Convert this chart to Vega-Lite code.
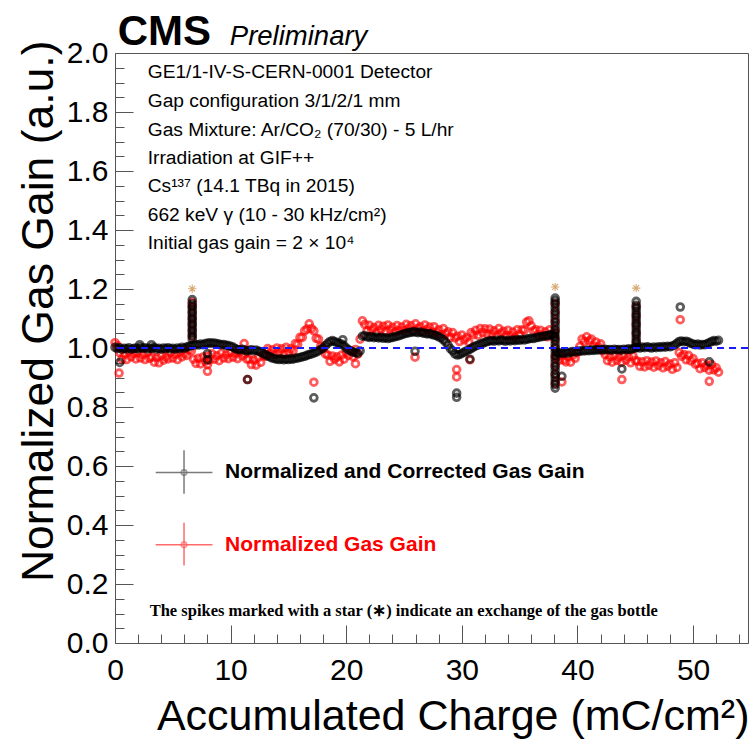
{
  "$schema": "https://vega.github.io/schema/vega-lite/v6.json",
  "width": 633,
  "height": 590,
  "autosize": "none",
  "padding": {"left": 115, "top": 53, "right": 2, "bottom": 102},
  "background": "white",
  "config": {"view": {"stroke": "#555", "strokeWidth": 1}, "font": "Liberation Sans"},
  "resolve": {"axis": {"x": "independent", "y": "independent"}},
  "datasets": {
    "gain": [
      {"q":0.0,"g":1.018,"s":"N"},{"q":0.2,"g":1.008,"s":"N"},{"q":0.4,"g":0.984,"s":"N"},{"q":0.6,"g":0.962,"s":"N"},{"q":0.8,"g":0.978,"s":"N"},{"q":1.0,"g":0.961,"s":"N"},{"q":1.2,"g":0.986,"s":"N"},{"q":1.4,"g":0.970,"s":"N"},{"q":1.6,"g":0.981,"s":"N"},{"q":1.8,"g":0.963,"s":"N"},
      {"q":2.0,"g":0.984,"s":"N"},{"q":2.2,"g":0.966,"s":"N"},{"q":2.4,"g":0.978,"s":"N"},{"q":2.6,"g":0.961,"s":"N"},{"q":2.8,"g":0.986,"s":"N"},{"q":3.0,"g":0.965,"s":"N"},{"q":3.2,"g":0.970,"s":"N"},{"q":3.4,"g":0.952,"s":"N"},{"q":3.6,"g":0.967,"s":"N"},{"q":3.8,"g":0.950,"s":"N"},
      {"q":4.0,"g":0.975,"s":"N"},{"q":4.2,"g":0.959,"s":"N"},{"q":4.4,"g":0.970,"s":"N"},{"q":4.6,"g":0.963,"s":"N"},{"q":4.8,"g":0.984,"s":"N"},{"q":5.0,"g":0.966,"s":"N"},{"q":5.2,"g":0.978,"s":"N"},{"q":5.4,"g":0.961,"s":"N"},{"q":5.6,"g":0.986,"s":"N"},{"q":5.8,"g":0.970,"s":"N"},
      {"q":6.0,"g":0.981,"s":"N"},{"q":6.2,"g":0.975,"s":"N"},{"q":6.4,"g":0.995,"s":"N"},{"q":6.6,"g":0.990,"s":"N"},{"q":6.8,"g":0.962,"s":"N"},{"q":7.0,"g":0.948,"s":"N"},{"q":7.2,"g":0.965,"s":"N"},{"q":7.4,"g":0.946,"s":"N"},{"q":7.6,"g":0.969,"s":"N"},{"q":7.8,"g":0.955,"s":"N"},
      {"q":8.0,"g":0.972,"s":"N"},{"q":8.2,"g":0.959,"s":"N"},{"q":8.4,"g":0.980,"s":"N"},{"q":8.6,"g":0.962,"s":"N"},{"q":8.8,"g":0.974,"s":"N"},{"q":9.0,"g":0.957,"s":"N"},{"q":9.2,"g":0.982,"s":"N"},{"q":9.4,"g":0.966,"s":"N"},{"q":9.6,"g":0.977,"s":"N"},{"q":9.8,"g":0.964,"s":"N"},
      {"q":10.0,"g":0.985,"s":"N"},{"q":10.2,"g":0.969,"s":"N"},{"q":10.4,"g":0.981,"s":"N"},{"q":10.6,"g":0.964,"s":"N"},{"q":10.8,"g":0.987,"s":"N"},{"q":11.0,"g":0.973,"s":"N"},{"q":11.2,"g":0.980,"s":"N"},{"q":11.4,"g":0.962,"s":"N"},{"q":11.6,"g":0.962,"s":"N"},{"q":11.8,"g":0.944,"s":"N"},
      {"q":12.0,"g":0.959,"s":"N"},{"q":12.2,"g":0.942,"s":"N"},{"q":12.4,"g":0.967,"s":"N"},{"q":12.6,"g":0.951,"s":"N"},{"q":12.8,"g":0.975,"s":"N"},{"q":13.0,"g":0.972,"s":"N"},{"q":13.2,"g":0.998,"s":"N"},{"q":13.4,"g":0.982,"s":"N"},{"q":13.6,"g":0.994,"s":"N"},{"q":13.8,"g":0.977,"s":"N"},
      {"q":14.0,"g":1.000,"s":"N"},{"q":14.2,"g":0.986,"s":"N"},{"q":14.4,"g":0.997,"s":"N"},{"q":14.6,"g":0.979,"s":"N"},{"q":14.8,"g":1.002,"s":"N"},{"q":15.0,"g":0.986,"s":"N"},{"q":15.2,"g":0.997,"s":"N"},{"q":15.4,"g":0.990,"s":"N"},{"q":15.6,"g":1.015,"s":"N"},{"q":15.8,"g":1.012,"s":"N"},
      {"q":16.0,"g":1.036,"s":"N"},{"q":16.2,"g":1.036,"s":"N"},{"q":16.4,"g":1.058,"s":"N"},{"q":16.6,"g":1.064,"s":"N"},{"q":16.8,"g":1.082,"s":"N"},{"q":17.0,"g":1.066,"s":"N"},{"q":17.2,"g":1.058,"s":"N"},{"q":17.4,"g":1.033,"s":"N"},{"q":17.6,"g":1.030,"s":"N"},{"q":17.8,"g":1.006,"s":"N"},
      {"q":18.0,"g":0.999,"s":"N"},{"q":18.2,"g":0.980,"s":"N"},{"q":18.4,"g":0.976,"s":"N"},{"q":18.6,"g":0.955,"s":"N"},{"q":18.8,"g":0.973,"s":"N"},{"q":19.0,"g":0.962,"s":"N"},{"q":19.2,"g":0.970,"s":"N"},{"q":19.4,"g":0.953,"s":"N"},{"q":19.6,"g":0.976,"s":"N"},{"q":19.8,"g":0.962,"s":"N"},
      {"q":20.0,"g":0.985,"s":"N"},{"q":20.2,"g":0.975,"s":"N"},{"q":20.4,"g":0.990,"s":"N"},{"q":20.6,"g":0.970,"s":"N"},{"q":20.8,"g":0.995,"s":"N"},{"q":21.0,"g":0.979,"s":"N"},{"q":21.2,"g":1.030,"s":"N"},{"q":21.4,"g":1.092,"s":"N"},{"q":21.6,"g":1.080,"s":"N"},{"q":21.8,"g":1.058,"s":"N"},
      {"q":22.0,"g":1.077,"s":"N"},{"q":22.2,"g":1.061,"s":"N"},{"q":22.4,"g":1.069,"s":"N"},{"q":22.6,"g":1.052,"s":"N"},{"q":22.8,"g":1.077,"s":"N"},{"q":23.0,"g":1.063,"s":"N"},{"q":23.2,"g":1.074,"s":"N"},{"q":23.4,"g":1.057,"s":"N"},{"q":23.6,"g":1.078,"s":"N"},{"q":23.8,"g":1.062,"s":"N"},
      {"q":24.0,"g":1.070,"s":"N"},{"q":24.2,"g":1.054,"s":"N"},{"q":24.4,"g":1.076,"s":"N"},{"q":24.6,"g":1.060,"s":"N"},{"q":24.8,"g":1.071,"s":"N"},{"q":25.0,"g":1.059,"s":"N"},{"q":25.2,"g":1.080,"s":"N"},{"q":25.4,"g":1.066,"s":"N"},{"q":25.6,"g":1.076,"s":"N"},{"q":25.8,"g":1.058,"s":"N"},
      {"q":26.0,"g":1.082,"s":"N"},{"q":26.2,"g":1.066,"s":"N"},{"q":26.4,"g":1.072,"s":"N"},{"q":26.6,"g":1.057,"s":"N"},{"q":26.8,"g":1.078,"s":"N"},{"q":27.0,"g":1.062,"s":"N"},{"q":27.2,"g":1.071,"s":"N"},{"q":27.4,"g":1.054,"s":"N"},{"q":27.6,"g":1.072,"s":"N"},{"q":27.8,"g":1.053,"s":"N"},
      {"q":28.0,"g":1.062,"s":"N"},{"q":28.2,"g":1.045,"s":"N"},{"q":28.4,"g":1.066,"s":"N"},{"q":28.6,"g":1.048,"s":"N"},{"q":28.8,"g":1.055,"s":"N"},{"q":29.0,"g":1.036,"s":"N"},{"q":29.2,"g":1.052,"s":"N"},{"q":29.4,"g":1.034,"s":"N"},{"q":29.6,"g":1.040,"s":"N"},{"q":29.8,"g":1.022,"s":"N"},
      {"q":30.0,"g":1.044,"s":"N"},{"q":30.2,"g":1.028,"s":"N"},{"q":30.4,"g":1.035,"s":"N"},{"q":30.6,"g":1.020,"s":"N"},{"q":30.8,"g":1.052,"s":"N"},{"q":31.0,"g":1.045,"s":"N"},{"q":31.2,"g":1.060,"s":"N"},{"q":31.4,"g":1.043,"s":"N"},{"q":31.6,"g":1.066,"s":"N"},{"q":31.8,"g":1.052,"s":"N"},
      {"q":32.0,"g":1.065,"s":"N"},{"q":32.2,"g":1.048,"s":"N"},{"q":32.4,"g":1.064,"s":"N"},{"q":32.6,"g":1.047,"s":"N"},{"q":32.8,"g":1.058,"s":"N"},{"q":33.0,"g":1.041,"s":"N"},{"q":33.2,"g":1.066,"s":"N"},{"q":33.4,"g":1.050,"s":"N"},{"q":33.6,"g":1.057,"s":"N"},{"q":33.8,"g":1.042,"s":"N"},
      {"q":34.0,"g":1.060,"s":"N"},{"q":34.2,"g":1.042,"s":"N"},{"q":34.4,"g":1.054,"s":"N"},{"q":34.6,"g":1.037,"s":"N"},{"q":34.8,"g":1.062,"s":"N"},{"q":35.0,"g":1.046,"s":"N"},{"q":35.2,"g":1.062,"s":"N"},{"q":35.4,"g":1.060,"s":"N"},{"q":35.6,"g":1.088,"s":"N"},{"q":35.8,"g":1.092,"s":"N"},
      {"q":36.0,"g":1.075,"s":"N"},{"q":36.2,"g":1.058,"s":"N"},{"q":36.4,"g":1.062,"s":"N"},{"q":36.6,"g":1.045,"s":"N"},{"q":36.8,"g":1.060,"s":"N"},{"q":37.0,"g":1.044,"s":"N"},{"q":37.2,"g":1.055,"s":"N"},{"q":37.4,"g":1.038,"s":"N"},{"q":37.6,"g":1.062,"s":"N"},{"q":37.8,"g":1.046,"s":"N"},
      {"q":38.0,"g":1.050,"s":"N"},{"q":38.2,"g":0.972,"s":"N"},{"q":38.4,"g":0.958,"s":"N"},{"q":38.6,"g":0.974,"s":"N"},{"q":38.8,"g":0.960,"s":"N"},{"q":39.0,"g":0.953,"s":"N"},{"q":39.2,"g":0.970,"s":"N"},{"q":39.4,"g":0.952,"s":"N"},{"q":39.6,"g":0.975,"s":"N"},{"q":39.8,"g":0.965,"s":"N"},
      {"q":40.0,"g":0.985,"s":"N"},{"q":40.2,"g":1.005,"s":"N"},{"q":40.4,"g":1.030,"s":"N"},{"q":40.6,"g":1.022,"s":"N"},{"q":40.8,"g":1.038,"s":"N"},{"q":41.0,"g":1.024,"s":"N"},{"q":41.2,"g":1.030,"s":"N"},{"q":41.4,"g":1.006,"s":"N"},{"q":41.6,"g":1.020,"s":"N"},{"q":41.8,"g":1.004,"s":"N"},
      {"q":42.0,"g":1.014,"s":"N"},{"q":42.2,"g":0.990,"s":"N"},{"q":42.4,"g":0.978,"s":"N"},{"q":42.6,"g":0.957,"s":"N"},{"q":42.8,"g":0.970,"s":"N"},{"q":43.0,"g":0.952,"s":"N"},{"q":43.2,"g":0.975,"s":"N"},{"q":43.4,"g":0.958,"s":"N"},{"q":43.6,"g":0.969,"s":"N"},{"q":43.8,"g":0.952,"s":"N"},
      {"q":44.0,"g":0.975,"s":"N"},{"q":44.2,"g":0.959,"s":"N"},{"q":44.4,"g":0.970,"s":"N"},{"q":44.6,"g":0.950,"s":"N"},{"q":44.8,"g":0.973,"s":"N"},{"q":45.0,"g":0.958,"s":"N"},{"q":45.2,"g":0.955,"s":"N"},{"q":45.4,"g":0.938,"s":"N"},{"q":45.6,"g":0.953,"s":"N"},{"q":45.8,"g":0.936,"s":"N"},
      {"q":46.0,"g":0.957,"s":"N"},{"q":46.2,"g":0.941,"s":"N"},{"q":46.4,"g":0.952,"s":"N"},{"q":46.6,"g":0.935,"s":"N"},{"q":46.8,"g":0.956,"s":"N"},{"q":47.0,"g":0.940,"s":"N"},{"q":47.2,"g":0.950,"s":"N"},{"q":47.4,"g":0.933,"s":"N"},{"q":47.6,"g":0.954,"s":"N"},{"q":47.8,"g":0.938,"s":"N"},
      {"q":48.0,"g":0.946,"s":"N"},{"q":48.2,"g":0.928,"s":"N"},{"q":48.4,"g":0.950,"s":"N"},{"q":48.6,"g":0.934,"s":"N"},{"q":48.8,"g":0.985,"s":"N"},{"q":49.0,"g":0.972,"s":"N"},{"q":49.2,"g":0.978,"s":"N"},{"q":49.4,"g":0.960,"s":"N"},{"q":49.6,"g":0.975,"s":"N"},{"q":49.8,"g":0.956,"s":"N"},
      {"q":50.0,"g":0.964,"s":"N"},{"q":50.2,"g":0.945,"s":"N"},{"q":50.4,"g":0.948,"s":"N"},{"q":50.6,"g":0.930,"s":"N"},{"q":50.8,"g":0.950,"s":"N"},{"q":51.0,"g":0.934,"s":"N"},{"q":51.2,"g":0.942,"s":"N"},{"q":51.4,"g":0.925,"s":"N"},{"q":51.6,"g":0.944,"s":"N"},{"q":51.8,"g":0.926,"s":"N"},
      {"q":52.0,"g":0.933,"s":"N"},{"q":52.2,"g":0.918,"s":"N"},
      {"q":6.68,"g":1.04,"s":"N"},{"q":6.68,"g":1.06,"s":"N"},{"q":6.68,"g":1.08,"s":"N"},{"q":6.68,"g":1.10,"s":"N"},{"q":6.68,"g":1.12,"s":"N"},{"q":6.68,"g":1.14,"s":"N"},{"q":6.68,"g":1.155,"s":"N"},
      {"q":38.07,"g":0.88,"s":"N"},{"q":38.07,"g":0.91,"s":"N"},{"q":38.07,"g":0.94,"s":"N"},{"q":38.07,"g":0.97,"s":"N"},{"q":38.07,"g":1.00,"s":"N"},{"q":38.07,"g":1.03,"s":"N"},{"q":38.07,"g":1.06,"s":"N"},{"q":38.07,"g":1.09,"s":"N"},{"q":38.07,"g":1.12,"s":"N"},{"q":38.07,"g":1.15,"s":"N"},
      {"q":45.08,"g":1.02,"s":"N"},{"q":45.08,"g":1.05,"s":"N"},{"q":45.08,"g":1.08,"s":"N"},{"q":45.08,"g":1.11,"s":"N"},{"q":45.08,"g":1.14,"s":"N"},
      {"q":0.35,"g":0.915,"s":"N"},{"q":8.0,"g":0.921,"s":"N"},{"q":8.0,"g":0.944,"s":"N"},{"q":11.17,"g":1.015,"s":"N"},{"q":11.46,"g":0.893,"s":"N"},{"q":17.2,"g":0.884,"s":"N"},{"q":20.8,"g":0.947,"s":"N"},{"q":25.95,"g":0.969,"s":"N"},{"q":29.55,"g":0.927,"s":"N"},{"q":29.55,"g":0.902,"s":"N"},{"q":30.7,"g":0.960,"s":"N"},{"q":38.65,"g":0.885,"s":"N"},{"q":43.84,"g":0.893,"s":"N"},{"q":48.89,"g":1.096,"s":"N"},{"q":51.4,"g":0.887,"s":"N"},
      {"q":0.0,"g":1.002,"s":"C"},{"q":0.2,"g":0.998,"s":"C"},{"q":0.4,"g":1.001,"s":"C"},{"q":0.6,"g":0.996,"s":"C"},{"q":0.8,"g":0.999,"s":"C"},{"q":1.0,"g":0.997,"s":"C"},{"q":1.2,"g":1.001,"s":"C"},{"q":1.4,"g":0.996,"s":"C"},{"q":1.6,"g":0.998,"s":"C"},{"q":1.8,"g":1.000,"s":"C"},
      {"q":2.0,"g":0.997,"s":"C"},{"q":2.2,"g":1.002,"s":"C"},{"q":2.4,"g":0.999,"s":"C"},{"q":2.6,"g":1.001,"s":"C"},{"q":2.8,"g":0.997,"s":"C"},{"q":3.0,"g":1.000,"s":"C"},{"q":3.2,"g":0.998,"s":"C"},{"q":3.4,"g":1.002,"s":"C"},{"q":3.6,"g":0.997,"s":"C"},{"q":3.8,"g":0.999,"s":"C"},
      {"q":4.0,"g":0.996,"s":"C"},{"q":4.2,"g":1.000,"s":"C"},{"q":4.4,"g":0.998,"s":"C"},{"q":4.6,"g":1.001,"s":"C"},{"q":4.8,"g":0.997,"s":"C"},{"q":5.0,"g":0.999,"s":"C"},{"q":5.2,"g":0.996,"s":"C"},{"q":5.4,"g":1.000,"s":"C"},{"q":5.6,"g":0.998,"s":"C"},{"q":5.8,"g":1.002,"s":"C"},
      {"q":6.0,"g":0.999,"s":"C"},{"q":6.2,"g":1.003,"s":"C"},{"q":6.4,"g":1.006,"s":"C"},{"q":6.6,"g":1.008,"s":"C"},{"q":6.8,"g":1.010,"s":"C"},{"q":7.0,"g":1.012,"s":"C"},{"q":7.2,"g":1.010,"s":"C"},{"q":7.4,"g":1.013,"s":"C"},{"q":7.6,"g":1.011,"s":"C"},{"q":7.8,"g":1.015,"s":"C"},
      {"q":8.0,"g":1.016,"s":"C"},{"q":8.2,"g":1.018,"s":"C"},{"q":8.4,"g":1.016,"s":"C"},{"q":8.6,"g":1.017,"s":"C"},{"q":8.8,"g":1.014,"s":"C"},{"q":9.0,"g":1.013,"s":"C"},{"q":9.2,"g":1.011,"s":"C"},{"q":9.4,"g":1.012,"s":"C"},{"q":9.6,"g":1.009,"s":"C"},{"q":9.8,"g":1.008,"s":"C"},
      {"q":10.0,"g":1.006,"s":"C"},{"q":10.2,"g":1.003,"s":"C"},{"q":10.4,"g":0.998,"s":"C"},{"q":10.6,"g":0.995,"s":"C"},{"q":10.8,"g":0.994,"s":"C"},{"q":11.0,"g":0.996,"s":"C"},{"q":11.2,"g":0.993,"s":"C"},{"q":11.4,"g":0.990,"s":"C"},{"q":11.6,"g":0.992,"s":"C"},{"q":11.8,"g":0.994,"s":"C"},
      {"q":12.0,"g":0.991,"s":"C"},{"q":12.2,"g":0.993,"s":"C"},{"q":12.4,"g":0.990,"s":"C"},{"q":12.6,"g":0.987,"s":"C"},{"q":12.8,"g":0.982,"s":"C"},{"q":13.0,"g":0.978,"s":"C"},{"q":13.2,"g":0.973,"s":"C"},{"q":13.4,"g":0.970,"s":"C"},{"q":13.6,"g":0.966,"s":"C"},{"q":13.8,"g":0.964,"s":"C"},
      {"q":14.0,"g":0.962,"s":"C"},{"q":14.2,"g":0.961,"s":"C"},{"q":14.4,"g":0.963,"s":"C"},{"q":14.6,"g":0.960,"s":"C"},{"q":14.8,"g":0.962,"s":"C"},{"q":15.0,"g":0.961,"s":"C"},{"q":15.2,"g":0.963,"s":"C"},{"q":15.4,"g":0.962,"s":"C"},{"q":15.6,"g":0.965,"s":"C"},{"q":15.8,"g":0.966,"s":"C"},
      {"q":16.0,"g":0.968,"s":"C"},{"q":16.2,"g":0.970,"s":"C"},{"q":16.4,"g":0.972,"s":"C"},{"q":16.6,"g":0.975,"s":"C"},{"q":16.8,"g":0.978,"s":"C"},{"q":17.0,"g":0.980,"s":"C"},{"q":17.2,"g":0.983,"s":"C"},{"q":17.4,"g":0.986,"s":"C"},{"q":17.6,"g":0.990,"s":"C"},{"q":17.8,"g":0.995,"s":"C"},
      {"q":18.0,"g":1.000,"s":"C"},{"q":18.2,"g":1.008,"s":"C"},{"q":18.4,"g":1.016,"s":"C"},{"q":18.6,"g":1.022,"s":"C"},{"q":18.8,"g":1.025,"s":"C"},{"q":19.0,"g":1.022,"s":"C"},{"q":19.2,"g":1.018,"s":"C"},{"q":19.4,"g":1.015,"s":"C"},{"q":19.6,"g":1.013,"s":"C"},{"q":19.8,"g":1.008,"s":"C"},
      {"q":20.0,"g":1.000,"s":"C"},{"q":20.2,"g":0.994,"s":"C"},{"q":20.4,"g":0.990,"s":"C"},{"q":20.6,"g":0.986,"s":"C"},{"q":20.8,"g":0.984,"s":"C"},{"q":21.0,"g":0.982,"s":"C"},{"q":21.2,"g":0.990,"s":"C"},{"q":21.4,"g":1.040,"s":"C"},{"q":21.6,"g":1.042,"s":"C"},{"q":21.8,"g":1.038,"s":"C"},
      {"q":22.0,"g":1.036,"s":"C"},{"q":22.2,"g":1.039,"s":"C"},{"q":22.4,"g":1.035,"s":"C"},{"q":22.6,"g":1.037,"s":"C"},{"q":22.8,"g":1.034,"s":"C"},{"q":23.0,"g":1.036,"s":"C"},{"q":23.2,"g":1.033,"s":"C"},{"q":23.4,"g":1.035,"s":"C"},{"q":23.6,"g":1.032,"s":"C"},{"q":23.8,"g":1.034,"s":"C"},
      {"q":24.0,"g":1.036,"s":"C"},{"q":24.2,"g":1.038,"s":"C"},{"q":24.4,"g":1.040,"s":"C"},{"q":24.6,"g":1.042,"s":"C"},{"q":24.8,"g":1.045,"s":"C"},{"q":25.0,"g":1.048,"s":"C"},{"q":25.2,"g":1.050,"s":"C"},{"q":25.4,"g":1.052,"s":"C"},{"q":25.6,"g":1.053,"s":"C"},{"q":25.8,"g":1.055,"s":"C"},
      {"q":26.0,"g":1.054,"s":"C"},{"q":26.2,"g":1.052,"s":"C"},{"q":26.4,"g":1.054,"s":"C"},{"q":26.6,"g":1.051,"s":"C"},{"q":26.8,"g":1.050,"s":"C"},{"q":27.0,"g":1.048,"s":"C"},{"q":27.2,"g":1.049,"s":"C"},{"q":27.4,"g":1.046,"s":"C"},{"q":27.6,"g":1.044,"s":"C"},{"q":27.8,"g":1.042,"s":"C"},
      {"q":28.0,"g":1.038,"s":"C"},{"q":28.2,"g":1.034,"s":"C"},{"q":28.4,"g":1.028,"s":"C"},{"q":28.6,"g":1.020,"s":"C"},{"q":28.8,"g":1.010,"s":"C"},{"q":29.0,"g":0.998,"s":"C"},{"q":29.2,"g":0.990,"s":"C"},{"q":29.4,"g":0.980,"s":"C"},{"q":29.6,"g":0.976,"s":"C"},{"q":29.8,"g":0.978,"s":"C"},
      {"q":30.0,"g":0.982,"s":"C"},{"q":30.2,"g":0.986,"s":"C"},{"q":30.4,"g":0.990,"s":"C"},{"q":30.6,"g":0.994,"s":"C"},{"q":30.8,"g":0.998,"s":"C"},{"q":31.0,"g":1.003,"s":"C"},{"q":31.2,"g":1.007,"s":"C"},{"q":31.4,"g":1.010,"s":"C"},{"q":31.6,"g":1.013,"s":"C"},{"q":31.8,"g":1.016,"s":"C"},
      {"q":32.0,"g":1.019,"s":"C"},{"q":32.2,"g":1.022,"s":"C"},{"q":32.4,"g":1.024,"s":"C"},{"q":32.6,"g":1.025,"s":"C"},{"q":32.8,"g":1.023,"s":"C"},{"q":33.0,"g":1.026,"s":"C"},{"q":33.2,"g":1.024,"s":"C"},{"q":33.4,"g":1.027,"s":"C"},{"q":33.6,"g":1.025,"s":"C"},{"q":33.8,"g":1.023,"s":"C"},
      {"q":34.0,"g":1.026,"s":"C"},{"q":34.2,"g":1.024,"s":"C"},{"q":34.4,"g":1.027,"s":"C"},{"q":34.6,"g":1.025,"s":"C"},{"q":34.8,"g":1.028,"s":"C"},{"q":35.0,"g":1.026,"s":"C"},{"q":35.2,"g":1.029,"s":"C"},{"q":35.4,"g":1.027,"s":"C"},{"q":35.6,"g":1.030,"s":"C"},{"q":35.8,"g":1.031,"s":"C"},
      {"q":36.0,"g":1.033,"s":"C"},{"q":36.2,"g":1.032,"s":"C"},{"q":36.4,"g":1.035,"s":"C"},{"q":36.6,"g":1.036,"s":"C"},{"q":36.8,"g":1.038,"s":"C"},{"q":37.0,"g":1.039,"s":"C"},{"q":37.2,"g":1.041,"s":"C"},{"q":37.4,"g":1.042,"s":"C"},{"q":37.6,"g":1.044,"s":"C"},{"q":37.8,"g":1.046,"s":"C"},
      {"q":38.0,"g":1.040,"s":"C"},{"q":38.2,"g":0.985,"s":"C"},{"q":38.4,"g":0.982,"s":"C"},{"q":38.6,"g":0.984,"s":"C"},{"q":38.8,"g":0.981,"s":"C"},{"q":39.0,"g":0.985,"s":"C"},{"q":39.2,"g":0.983,"s":"C"},{"q":39.4,"g":0.986,"s":"C"},{"q":39.6,"g":0.988,"s":"C"},{"q":39.8,"g":0.987,"s":"C"},
      {"q":40.0,"g":0.990,"s":"C"},{"q":40.2,"g":0.989,"s":"C"},{"q":40.4,"g":0.991,"s":"C"},{"q":40.6,"g":0.990,"s":"C"},{"q":40.8,"g":0.992,"s":"C"},{"q":41.0,"g":0.991,"s":"C"},{"q":41.2,"g":0.993,"s":"C"},{"q":41.4,"g":0.992,"s":"C"},{"q":41.6,"g":0.994,"s":"C"},{"q":41.8,"g":0.993,"s":"C"},
      {"q":42.0,"g":0.995,"s":"C"},{"q":42.2,"g":0.994,"s":"C"},{"q":42.4,"g":0.996,"s":"C"},{"q":42.6,"g":0.994,"s":"C"},{"q":42.8,"g":0.995,"s":"C"},{"q":43.0,"g":0.993,"s":"C"},{"q":43.2,"g":0.996,"s":"C"},{"q":43.4,"g":0.994,"s":"C"},{"q":43.6,"g":0.995,"s":"C"},{"q":43.8,"g":0.993,"s":"C"},
      {"q":44.0,"g":0.996,"s":"C"},{"q":44.2,"g":0.994,"s":"C"},{"q":44.4,"g":0.997,"s":"C"},{"q":44.6,"g":0.995,"s":"C"},{"q":44.8,"g":0.998,"s":"C"},{"q":45.0,"g":1.000,"s":"C"},{"q":45.2,"g":1.002,"s":"C"},{"q":45.4,"g":1.000,"s":"C"},{"q":45.6,"g":1.003,"s":"C"},{"q":45.8,"g":1.001,"s":"C"},
      {"q":46.0,"g":1.004,"s":"C"},{"q":46.2,"g":1.002,"s":"C"},{"q":46.4,"g":1.000,"s":"C"},{"q":46.6,"g":1.003,"s":"C"},{"q":46.8,"g":1.001,"s":"C"},{"q":47.0,"g":1.004,"s":"C"},{"q":47.2,"g":1.002,"s":"C"},{"q":47.4,"g":1.005,"s":"C"},{"q":47.6,"g":1.003,"s":"C"},{"q":47.8,"g":1.006,"s":"C"},
      {"q":48.0,"g":1.004,"s":"C"},{"q":48.2,"g":1.007,"s":"C"},{"q":48.4,"g":1.010,"s":"C"},{"q":48.6,"g":1.016,"s":"C"},{"q":48.8,"g":1.022,"s":"C"},{"q":49.0,"g":1.024,"s":"C"},{"q":49.2,"g":1.021,"s":"C"},{"q":49.4,"g":1.023,"s":"C"},{"q":49.6,"g":1.020,"s":"C"},{"q":49.8,"g":1.016,"s":"C"},
      {"q":50.0,"g":1.013,"s":"C"},{"q":50.2,"g":1.011,"s":"C"},{"q":50.4,"g":1.013,"s":"C"},{"q":50.6,"g":1.010,"s":"C"},{"q":50.8,"g":1.012,"s":"C"},{"q":51.0,"g":1.011,"s":"C"},{"q":51.2,"g":1.014,"s":"C"},{"q":51.4,"g":1.018,"s":"C"},{"q":51.6,"g":1.022,"s":"C"},{"q":51.8,"g":1.025,"s":"C"},
      {"q":52.0,"g":1.023,"s":"C"},{"q":52.2,"g":1.026,"s":"C"},
      {"q":6.68,"g":1.030,"s":"C"},{"q":6.68,"g":1.040,"s":"C"},{"q":6.68,"g":1.050,"s":"C"},{"q":6.68,"g":1.060,"s":"C"},{"q":6.68,"g":1.070,"s":"C"},{"q":6.68,"g":1.080,"s":"C"},{"q":6.68,"g":1.090,"s":"C"},{"q":6.68,"g":1.100,"s":"C"},{"q":6.68,"g":1.110,"s":"C"},{"q":6.68,"g":1.120,"s":"C"},{"q":6.68,"g":1.130,"s":"C"},{"q":6.68,"g":1.140,"s":"C"},{"q":6.68,"g":1.150,"s":"C"},{"q":6.68,"g":1.164,"s":"C"},
      {"q":38.07,"g":0.864,"s":"C"},{"q":38.07,"g":0.876,"s":"C"},{"q":38.07,"g":0.888,"s":"C"},{"q":38.07,"g":0.900,"s":"C"},{"q":38.07,"g":0.912,"s":"C"},{"q":38.07,"g":0.925,"s":"C"},{"q":38.07,"g":0.937,"s":"C"},{"q":38.07,"g":0.950,"s":"C"},{"q":38.07,"g":0.962,"s":"C"},{"q":38.07,"g":0.975,"s":"C"},{"q":38.07,"g":0.987,"s":"C"},{"q":38.07,"g":1.000,"s":"C"},{"q":38.07,"g":1.012,"s":"C"},
      {"q":38.07,"g":1.025,"s":"C"},{"q":38.07,"g":1.037,"s":"C"},{"q":38.07,"g":1.050,"s":"C"},{"q":38.07,"g":1.062,"s":"C"},{"q":38.07,"g":1.075,"s":"C"},{"q":38.07,"g":1.087,"s":"C"},{"q":38.07,"g":1.100,"s":"C"},{"q":38.07,"g":1.112,"s":"C"},{"q":38.07,"g":1.125,"s":"C"},{"q":38.07,"g":1.137,"s":"C"},{"q":38.07,"g":1.150,"s":"C"},{"q":38.07,"g":1.160,"s":"C"},{"q":38.07,"g":1.169,"s":"C"},
      {"q":45.08,"g":1.005,"s":"C"},{"q":45.08,"g":1.015,"s":"C"},{"q":45.08,"g":1.025,"s":"C"},{"q":45.08,"g":1.035,"s":"C"},{"q":45.08,"g":1.045,"s":"C"},{"q":45.08,"g":1.055,"s":"C"},{"q":45.08,"g":1.065,"s":"C"},{"q":45.08,"g":1.075,"s":"C"},{"q":45.08,"g":1.085,"s":"C"},{"q":45.08,"g":1.095,"s":"C"},{"q":45.08,"g":1.105,"s":"C"},{"q":45.08,"g":1.115,"s":"C"},{"q":45.08,"g":1.125,"s":"C"},{"q":45.08,"g":1.135,"s":"C"},{"q":45.08,"g":1.145,"s":"C"},{"q":45.08,"g":1.158,"s":"C"},
      {"q":0.41,"g":0.951,"s":"C"},{"q":2.14,"g":1.011,"s":"C"},{"q":3.15,"g":1.011,"s":"C"},{"q":8.0,"g":0.981,"s":"C"},{"q":8.0,"g":0.960,"s":"C"},{"q":11.46,"g":0.893,"s":"C"},{"q":17.2,"g":0.831,"s":"C"},{"q":19.7,"g":1.028,"s":"C"},{"q":25.95,"g":0.989,"s":"C"},{"q":29.55,"g":0.847,"s":"C"},{"q":29.55,"g":0.833,"s":"C"},{"q":30.7,"g":0.962,"s":"C"},{"q":38.65,"g":0.904,"s":"C"},{"q":43.84,"g":0.929,"s":"C"},{"q":48.89,"g":1.139,"s":"C"},{"q":51.4,"g":0.953,"s":"C"}
    ],
    "bottles": [
      {"q":6.68,"g":1.201},{"q":38.07,"g":1.207},{"q":45.08,"g":1.203}
    ],
    "info": [
      {"q":2.83,"g":1.934,"t":"GE1/1-IV-S-CERN-0001 Detector"},
      {"q":2.83,"g":1.836,"t":"Gap configuration 3/1/2/1 mm"},
      {"q":2.83,"g":1.740,"t":"Gas Mixture: Ar/CO₂ (70/30) - 5 L/hr"},
      {"q":2.83,"g":1.645,"t":"Irradiation at GIF++"},
      {"q":2.83,"g":1.548,"t":"Cs¹³⁷ (14.1 TBq in 2015)"},
      {"q":2.83,"g":1.452,"t":"662 keV γ (10 - 30 kHz/cm²)"},
      {"q":2.83,"g":1.356,"t":"Initial gas gain = 2 × 10⁴"}
    ],
    "bars": [
      {"q":3.52,"q2":8.43,"g":0.578,"g2":0.578,"s":"C"},
      {"q":5.97,"q2":5.97,"g":0.506,"g2":0.653,"s":"C"},
      {"q":3.52,"q2":8.43,"g":0.333,"g2":0.333,"s":"N"},
      {"q":5.97,"q2":5.97,"g":0.263,"g2":0.408,"s":"N"}
    ],
    "keys": [
      {"q":5.97,"g":0.578,"s":"C","t":"Normalized and Corrected Gas Gain","lq":9.52},
      {"q":5.97,"g":0.333,"s":"N","t":"Normalized Gas Gain","lq":9.52}
    ]
  },
  "layer": [
    {
      "data": {"name": "gain"},
      "mark": {"type": "point", "shape": "circle", "filled": false, "size": 46, "strokeWidth": 2.8, "strokeOpacity": 0.9},
      "encoding": {
        "x": {
          "field": "q", "type": "quantitative",
          "scale": {"domain": [0, 54.75], "nice": false, "zero": false},
          "axis": {
            "orient": "bottom",
            "title": "Accumulated Charge (mC/cm²)",
            "values": [0, 10, 20, 30, 40, 50],
            "tickSize": -18,
            "labelPadding": 30,
            "labelFont": "Liberation Sans", "labelFontSize": 30, "labelColor": "#000",
            "labelFlush": false, "labelBound": false,
            "domainColor": "#555", "tickColor": "#555", "tickWidth": 1, "grid": false,
            "titleFont": "Liberation Sans", "titleFontSize": 43, "titleFontWeight": "normal", "titleColor": "#000",
            "titleAnchor": "end", "titleAlign": "right", "titleBaseline": "alphabetic", "titleX": 634, "titleY": 86
          }
        },
        "y": {
          "field": "g", "type": "quantitative",
          "scale": {"domain": [0, 2], "nice": false, "zero": false},
          "axis": {
            "orient": "left",
            "title": "Normalized Gas Gain (a.u.)",
            "values": [0, 0.2, 0.4, 0.6, 0.8, 1, 1.2, 1.4, 1.6, 1.8, 2],
            "format": ".1f",
            "tickSize": -18,
            "labelPadding": 25,
            "labelFont": "Liberation Sans", "labelFontSize": 30, "labelColor": "#000",
            "labelFlush": false, "labelBound": false,
            "domainColor": "#555", "tickColor": "#555", "tickWidth": 1, "grid": false,
            "titleFont": "Liberation Sans", "titleFontSize": 44.5, "titleFontWeight": "normal", "titleColor": "#000",
            "titleAnchor": "end", "titleAlign": "right", "titleAngle": -90, "titleBaseline": "alphabetic", "titleX": -63, "titleY": -13
          }
        },
        "stroke": {"field": "s", "type": "nominal", "scale": {"domain": ["N", "C"], "range": ["#ff0000", "#000000"]}, "legend": null}
      }
    },
    {
      "data": {"name": "bottles"},
      "mark": {"type": "point", "shape": "M-1,0L1,0M0,-1L0,1M-0.7,-0.7L0.7,0.7M-0.7,0.7L0.7,-0.7", "filled": false, "size": 70, "strokeWidth": 1.1, "color": "#c8883a"},
      "encoding": {
        "x": {
          "field": "q", "type": "quantitative",
          "axis": {
            "orient": "bottom", "title": null, "labels": false, "domain": false, "grid": false,
            "values": [2,4,6,8,12,14,16,18,22,24,26,28,32,34,36,38,42,44,46,48,52,54],
            "tickSize": -9, "tickColor": "#555", "tickWidth": 1
          }
        },
        "y": {
          "field": "g", "type": "quantitative",
          "axis": {
            "orient": "left", "title": null, "labels": false, "domain": false, "grid": false,
            "values": [0.05,0.1,0.15,0.25,0.3,0.35,0.45,0.5,0.55,0.65,0.7,0.75,0.85,0.9,0.95,1.05,1.1,1.15,1.25,1.3,1.35,1.45,1.5,1.55,1.65,1.7,1.75,1.85,1.9,1.95],
            "tickSize": -9, "tickColor": "#555", "tickWidth": 1
          }
        }
      }
    },
    {
      "data": {"values": [{"g": 1}]},
      "mark": {"type": "rule", "color": "#1a1aff", "strokeWidth": 2, "strokeDash": [7, 5]},
      "encoding": {"y": {"field": "g", "type": "quantitative", "axis": null}}
    },
    {
      "data": {"name": "info"},
      "mark": {"type": "text", "align": "left", "baseline": "middle", "font": "Liberation Sans", "fontSize": 19.2, "color": "#000"},
      "encoding": {"x": {"field": "q", "type": "quantitative", "axis": null}, "y": {"field": "g", "type": "quantitative", "axis": null}, "text": {"field": "t"}}
    },
    {
      "data": {"name": "bars"},
      "transform": [{"filter": "datum.s === 'C'"}],
      "mark": {"type": "rule", "color": "#7a7a7a", "strokeWidth": 1.5},
      "encoding": {"x": {"field": "q", "type": "quantitative", "axis": null}, "x2": {"field": "q2"}, "y": {"field": "g", "type": "quantitative", "axis": null}, "y2": {"field": "g2"}}
    },
    {
      "data": {"name": "bars"},
      "transform": [{"filter": "datum.s === 'N'"}],
      "mark": {"type": "rule", "color": "#ff6a6a", "strokeWidth": 1.5},
      "encoding": {"x": {"field": "q", "type": "quantitative", "axis": null}, "x2": {"field": "q2"}, "y": {"field": "g", "type": "quantitative", "axis": null}, "y2": {"field": "g2"}}
    },
    {
      "data": {"name": "keys"},
      "transform": [{"filter": "datum.s === 'C'"}],
      "mark": {"type": "point", "shape": "circle", "filled": false, "size": 30, "strokeWidth": 1.5, "color": "#6a6a6a"},
      "encoding": {"x": {"field": "q", "type": "quantitative", "axis": null}, "y": {"field": "g", "type": "quantitative", "axis": null}}
    },
    {
      "data": {"name": "keys"},
      "transform": [{"filter": "datum.s === 'C'"}],
      "mark": {"type": "text", "align": "left", "baseline": "middle", "font": "Liberation Sans", "fontWeight": "bold", "fontSize": 21, "color": "#000"},
      "encoding": {"x": {"field": "lq", "type": "quantitative", "axis": null}, "y": {"field": "g", "type": "quantitative", "axis": null}, "text": {"field": "t"}}
    },
    {
      "data": {"name": "keys"},
      "transform": [{"filter": "datum.s === 'N'"}],
      "mark": {"type": "point", "shape": "circle", "filled": false, "size": 30, "strokeWidth": 1.5, "color": "#ff5a5a"},
      "encoding": {"x": {"field": "q", "type": "quantitative", "axis": null}, "y": {"field": "g", "type": "quantitative", "axis": null}}
    },
    {
      "data": {"name": "keys"},
      "transform": [{"filter": "datum.s === 'N'"}],
      "mark": {"type": "text", "align": "left", "baseline": "middle", "font": "Liberation Sans", "fontWeight": "bold", "fontSize": 21, "color": "#ff0000"},
      "encoding": {"x": {"field": "lq", "type": "quantitative", "axis": null}, "y": {"field": "g", "type": "quantitative", "axis": null}, "text": {"field": "t"}}
    },
    {
      "data": {"values": [{"q": 3.0, "g": 0.107, "t": "The spikes marked with a star (∗) indicate an exchange of the gas bottle"}]},
      "mark": {"type": "text", "align": "left", "baseline": "middle", "font": "Liberation Serif", "fontWeight": "bold", "fontSize": 16.5, "color": "#000"},
      "encoding": {"x": {"field": "q", "type": "quantitative", "axis": null}, "y": {"field": "g", "type": "quantitative", "axis": null}, "text": {"field": "t"}}
    },
    {
      "data": {"values": [{"q": 0.23, "g": 2.028, "t": "CMS"}]},
      "mark": {"type": "text", "align": "left", "baseline": "alphabetic", "font": "Liberation Sans", "fontWeight": "bold", "fontSize": 42, "color": "#000"},
      "encoding": {"x": {"field": "q", "type": "quantitative", "axis": null}, "y": {"field": "g", "type": "quantitative", "axis": null}, "text": {"field": "t"}}
    },
    {
      "data": {"values": [{"q": 9.93, "g": 2.028, "t": "Preliminary"}]},
      "mark": {"type": "text", "align": "left", "baseline": "alphabetic", "font": "Liberation Sans", "fontStyle": "italic", "fontSize": 27.5, "color": "#000"},
      "encoding": {"x": {"field": "q", "type": "quantitative", "axis": null}, "y": {"field": "g", "type": "quantitative", "axis": null}, "text": {"field": "t"}}
    }
  ]
}
